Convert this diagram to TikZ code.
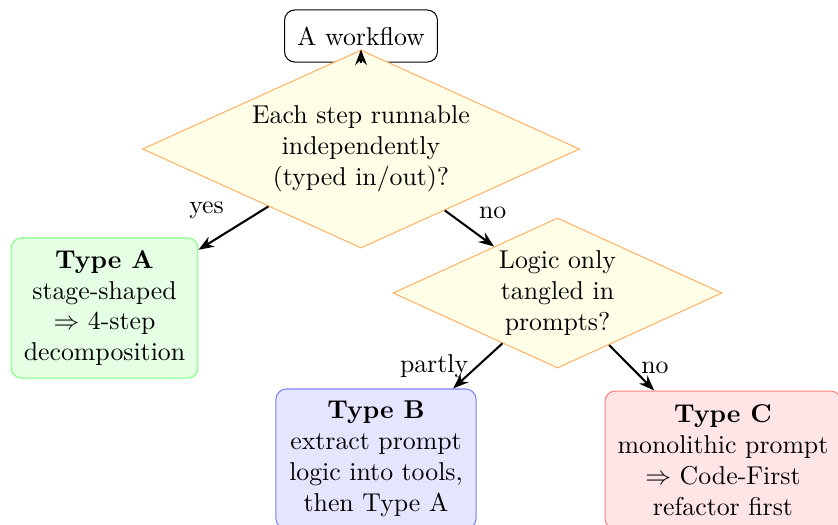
\documentclass[tikz,border=0pt]{standalone}
\usetikzlibrary{shapes.geometric,arrows.meta}
\begin{document}
\begin{tikzpicture}[x=0.3878pt,y=-0.3878pt,
  startbox/.style={draw=black,rounded corners=4pt,minimum width=59.3pt,minimum height=20.2pt,inner sep=2pt},
  decision/.style={diamond,aspect=2.4,inner sep=0pt,draw=orange!60,fill=yellow!10,align=center},
  outbox/.style={rounded corners=4pt,align=center,inner sep=2pt},
  flow/.style={thick,-{Stealth[length=6pt,width=4.5pt]}},
  lbl/.style={font=\normalsize}]
\useasboundingbox (0,0) rectangle (838,524);
\node[startbox] (start) at (361,36) {A workflow};
\node[decision,minimum width=169.5pt,minimum height=76.8pt] (q1) at (361,149) {Each step runnable\\independently\\(typed in/out)?};
\node[decision,minimum width=127.6pt,minimum height=58.2pt] (q2) at (557.5,293) {Logic only\\tangled in\\prompts?};
\node[outbox,draw=green!50,fill=green!10,minimum width=72.5pt,minimum height=54.3pt] (ta) at (104.5,308) {\textbf{Type A}\\stage-shaped\\$\Rightarrow$ 4-step\\decomposition};
\node[outbox,draw=blue!50,fill=blue!10,minimum width=77.6pt,minimum height=54.3pt] (tb) at (376,459) {\textbf{Type B}\\extract prompt\\logic into tools,\\then Type A};
\node[outbox,draw=red!50,fill=red!10,minimum width=91.5pt,minimum height=53.5pt] (tc) at (723,460) {\textbf{Type C}\\monolithic prompt\\$\Rightarrow$ Code-First\\refactor first};
\draw[flow] (start) -- (q1);
\draw[flow] (q1) -- node[lbl,above left] {yes} (ta);
\draw[flow] (q1) -- node[lbl,above right] {no} (q2);
\draw[flow] (q2) -- node[lbl,left] {partly} (tb);
\draw[flow] (q2) -- node[lbl,right] {no} (tc);
\end{tikzpicture}
\end{document}
